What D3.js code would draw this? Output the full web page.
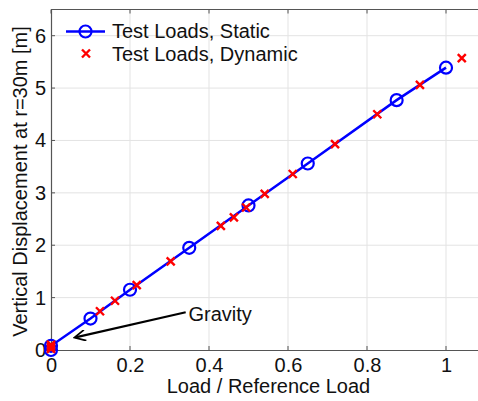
<!DOCTYPE html>
<html><head><meta charset="utf-8">
<script src="https://cdn.jsdelivr.net/npm/d3@7"></script>
<style>body{margin:0;background:#fff;}svg{display:block;font-family:Arial,"Liberation Sans",sans-serif;}</style>
</head><body>
<script>
const staticX = [0, 0, 0.1, 0.2, 0.35, 0.5, 0.65, 0.875, 1.0];
const staticY = [0, 0.08, 0.6, 1.15, 1.95, 2.76, 3.56, 4.77, 5.39];
const dynamicX = [0, 0, 0, 0.124, 0.162, 0.217, 0.303, 0.43, 0.463, 0.494, 0.541, 0.612, 0.719, 0.826, 0.934, 1.04];
const dynamicY = [0.02, 0.06, 0.1, 0.74, 0.94, 1.24, 1.69, 2.37, 2.53, 2.72, 2.98, 3.36, 3.93, 4.50, 5.06, 5.57];
const xTicks = [0, 0.2, 0.4, 0.6, 0.8, 1];
const yTicks = [0, 1, 2, 3, 4, 5, 6];
const legendLabels = ["Test Loads, Static", "Test Loads, Dynamic"];

const W = 478, H = 401;
const m = {left: 51, top: 9.5, bottom: 350};
const x = d3.scaleLinear().domain([0, 1.1]).range([m.left, m.left + 1.1 * 395]);
const y = d3.scaleLinear().domain([0, 6.5]).range([m.bottom, m.top]);

const svg = d3.select("body").append("svg").attr("width", W).attr("height", H);
const fs = 20;
const ff = "Arial, 'Liberation Sans', sans-serif";

// grid
svg.append("g").selectAll("line").data(xTicks.slice(1)).join("line")
  .attr("x1", d => x(d)).attr("x2", d => x(d)).attr("y1", y(0)).attr("y2", y(6.5))
  .attr("stroke", "#e3e3e3").attr("stroke-width", 1);
svg.append("g").selectAll("line").data(yTicks.slice(1)).join("line")
  .attr("y1", d => y(d)).attr("y2", d => y(d)).attr("x1", x(0)).attr("x2", x(1.1))
  .attr("stroke", "#e3e3e3").attr("stroke-width", 1);

// axes
const xAxis = d3.axisBottom(x).tickValues(xTicks).tickSize(0).tickPadding(8).tickFormat(d3.format("~g"));
const gx = svg.append("g").attr("transform", `translate(0,${y(0)})`).call(xAxis);
gx.select(".domain").attr("stroke", "#555").attr("stroke-width", 1.2);
gx.selectAll("text").attr("font-size", fs).attr("fill", "#111").attr("font-family", ff);

const yAxis = d3.axisLeft(y).tickValues(yTicks).tickSize(0).tickPadding(5).tickFormat(d3.format("~g"));
const gy = svg.append("g").attr("transform", `translate(${x(0)},0)`).call(yAxis);
gy.select(".domain").attr("stroke", "#555").attr("stroke-width", 1.2);
gy.selectAll("text").attr("font-size", fs).attr("fill", "#111").attr("font-family", ff);

// top frame
svg.append("line").attr("x1", x(0)).attr("x2", x(1.1)).attr("y1", y(6.5)).attr("y2", y(6.5))
  .attr("stroke", "#555").attr("stroke-width", 1.2);
// inner ticks
const tk = svg.append("g").attr("stroke", "#555").attr("stroke-width", 1);
xTicks.forEach(t => {
  tk.append("line").attr("x1", x(t)).attr("x2", x(t)).attr("y1", y(0)).attr("y2", y(0) - 4);
  tk.append("line").attr("x1", x(t)).attr("x2", x(t)).attr("y1", y(6.5)).attr("y2", y(6.5) + 4);
});
yTicks.forEach(t => {
  tk.append("line").attr("x1", x(0)).attr("x2", x(0) + 4).attr("y1", y(t)).attr("y2", y(t));
});

// axis labels
svg.append("text").attr("x", x(0.5) + 20).attr("y", 392.5).attr("text-anchor", "middle")
  .attr("font-size", fs).attr("fill", "#111").text("Load / Reference Load");
svg.append("text").attr("transform", `translate(27,181.5) rotate(-90)`)
  .attr("text-anchor", "middle").attr("font-size", fs).attr("fill", "#111")
  .text("Vertical Displacement at r=30m [m]");

// static line + circles
const sData = staticX.map((v, i) => [v, staticY[i]]);
const dData = dynamicX.map((v, i) => [v, dynamicY[i]]);
svg.append("path").datum(sData)
  .attr("d", d3.line().x(d => x(d[0])).y(d => y(d[1])))
  .attr("fill", "none").attr("stroke", "#0000ff").attr("stroke-width", 2.5);
svg.append("g").selectAll("circle").data(sData).join("circle")
  .attr("cx", d => x(d[0])).attr("cy", d => y(d[1])).attr("r", 6)
  .attr("fill", "none").attr("stroke", "#0000ff").attr("stroke-width", 2.2);

// crosses
function cross(g, cx, cy, s) {
  g.append("path").attr("d", `M${cx - s},${cy - s}L${cx + s},${cy + s}M${cx - s},${cy + s}L${cx + s},${cy - s}`)
    .attr("stroke", "#ff0000").attr("stroke-width", 2.4).attr("fill", "none");
}
const cg = svg.append("g");
dData.forEach(d => cross(cg, x(d[0]), y(d[1]), 4));

// legend
const lg = svg.append("g");
lg.append("line").attr("x1", 66).attr("x2", 105).attr("y1", 31.5).attr("y2", 31.5)
  .attr("stroke", "#0000ff").attr("stroke-width", 2.5);
lg.append("circle").attr("cx", 85.5).attr("cy", 31.5).attr("r", 6)
  .attr("fill", "none").attr("stroke", "#0000ff").attr("stroke-width", 2.2);
cross(lg, 86, 53.5, 4);
lg.selectAll("text").data(legendLabels).join("text")
  .attr("x", 112).attr("y", (d, i) => 37.5 + i * 23)
  .attr("font-size", fs).attr("fill", "#111").text(d => d);

// gravity annotation
svg.append("defs").append("marker").attr("id", "ah").attr("viewBox", "0 0 10 10")
  .attr("refX", 9).attr("refY", 5).attr("markerWidth", 6).attr("markerHeight", 5)
  .attr("orient", "auto").attr("markerUnits", "strokeWidth")
  .append("path").attr("d", "M0,0L10,5L0,10").attr("fill", "none").attr("stroke", "#000").attr("stroke-width", 1.6);
svg.append("line").attr("x1", x(0.341)).attr("y1", y(0.72)).attr("x2", x(0.062)).attr("y2", y(0.24))
  .attr("stroke", "#000").attr("stroke-width", 2.2).attr("marker-end", "url(#ah)");
svg.append("text").attr("x", x(0.348)).attr("y", y(0.55)).attr("font-size", fs).attr("fill", "#111").text("Gravity");
</script>
</body></html>
